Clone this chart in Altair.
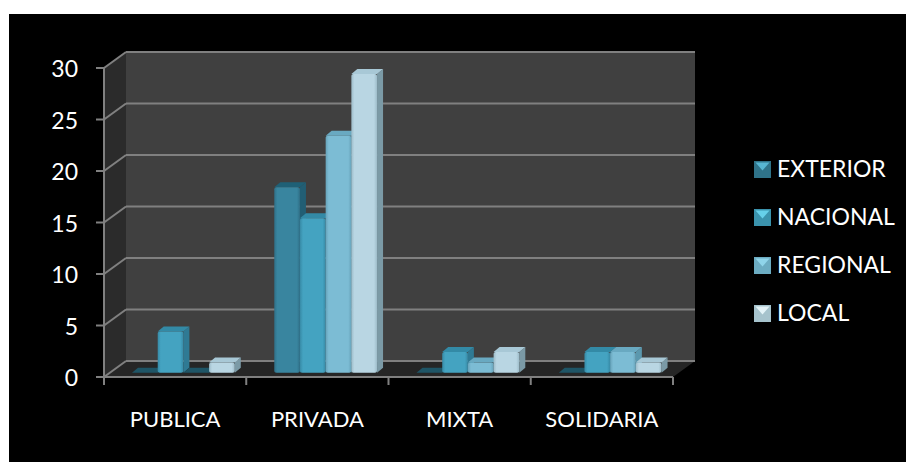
import altair as alt
import pandas as pd

# Survey counts by organisation type and geographic scope
categories = ["PUBLICA", "PRIVADA", "MIXTA", "SOLIDARIA"]
series = ["EXTERIOR", "NACIONAL", "REGIONAL", "LOCAL"]
exterior = [0, 18, 0, 0]
nacional = [4, 15, 2, 2]
regional = [0, 23, 1, 2]
local = [1, 29, 2, 1]
y_ticks = [0, 5, 10, 15, 20, 25, 30]
x_ticks = [0, 1, 2, 3, 4]
values = [exterior, nacional, regional, local]

front = ["#39859f", "#44a3c1", "#7cbcd4", "#b9d6e3"]
edge = ["#2f7088", "#378aa6", "#67a3ba", "#9dbcc9"]
side = ["#225e74", "#2f7a94", "#5b98ae", "#7b9aa6"]
top = ["#1f6076", "#338aa6", "#69a9c1", "#a8c8d6"]
zero_top = "#1f5566"
swatch_top = ["#57b6d2", "#66d0ea", "#8fd4ea", "#e4f3f8"]
swatch_body = ["#2f7389", "#3b93ad", "#6cacc2", "#a6c3cd"]

PLOT_W, PLOT_H = 569, 309
PX_X = PLOT_W / len(categories)
PX_Y = PLOT_H / 30

# depth of the 3D box and of the bars inside it, in screen pixels
BOX_DX, BOX_DY = 22, 16
BAR_DX, BAR_DY = 6, 5
LIFT = 4.3 / PX_Y
BAR_W = 25.7 / PX_X
GROUP_START = 28 / PX_X

bars, sides, tops = [], [], []
for j, name in enumerate(series):
    for i, cat in enumerate(categories):
        v = values[j][i]
        x0 = i + GROUP_START + j * BAR_W
        x1 = x0 + BAR_W
        dx = BAR_DX / PX_X
        dy = BAR_DY / PX_Y
        key = f"{j}-{i}"
        bars.append(dict(s=j, x0=x0, x1=x1, y0=LIFT, y1=v + LIFT))
        sides += [
            dict(s=j, id=key, x=x1, lo=LIFT, hi=v + LIFT),
            dict(s=j, id=key, x=x1 + dx, lo=LIFT + dy, hi=v + LIFT + dy),
        ]
        tops += [
            dict(s=j, id=key, flat=v == 0, y=v + LIFT, a=x0, b=x1),
            dict(s=j, id=key, flat=v == 0, y=v + LIFT + dy, a=x0 + dx, b=x1 + dx),
        ]
bars, sides, tops = pd.DataFrame(bars), pd.DataFrame(sides), pd.DataFrame(tops)

X = alt.Scale(domain=[0, 4], range=[0, PLOT_W], nice=False)
Y = alt.Scale(domain=[0, 30], range=[PLOT_H, 0], nice=False)
NO_X = alt.X("x:Q", scale=X, axis=None)
NO_Y = alt.Y("v:Q", scale=Y, axis=None)

GRID = "#808080"
one = pd.DataFrame({"a": [0]})


def panel(path, fill):
    """A filled face of the box, given as an SVG path from the front-left floor corner."""
    return alt.Chart(one).mark_point(
        shape=path, size=4, filled=True, fill=fill, opacity=1, strokeWidth=0
    ).encode(x=alt.value(0), y=alt.value(PLOT_H))


def top_face(rows, color):
    """The top of each bar as a parallelogram running back into the box."""
    return alt.Chart(rows).mark_area(color=color, opacity=1, orient="horizontal").encode(
        y=alt.Y("y:Q", scale=Y, axis=None), x=alt.X("a:Q", scale=X, axis=None), x2="b:Q", detail="id:N"
    )


# white strips along the top and left of the black page
strip_top = alt.Chart(one).mark_rect(color="#ffffff").encode(
    x=alt.value(-104), x2=alt.value(802), y=alt.value(-68), y2=alt.value(-54)
)
strip_left = alt.Chart(one).mark_rect(color="#ffffff").encode(
    x=alt.value(-104), x2=alt.value(-95), y=alt.value(-68), y2=alt.value(394)
)
back_wall = panel(f"M{BOX_DX} {-BOX_DY}L{PLOT_W + BOX_DX} {-BOX_DY}L{PLOT_W + BOX_DX} {-PLOT_H - BOX_DY}L{BOX_DX} {-PLOT_H - BOX_DY}Z", "#404040")
left_wall = panel(f"M0 0L{BOX_DX} {-BOX_DY}L{BOX_DX} {-PLOT_H - BOX_DY}L0 {-PLOT_H}Z", "#2b2b2b")
floor = panel(f"M0 0L{BOX_DX} {-BOX_DY}L{PLOT_W + BOX_DX} {-BOX_DY}L{PLOT_W} 0Z", "#262626")

y_df = pd.DataFrame({"v": y_ticks})
x_df = pd.DataFrame({"x": x_ticks})

grid_lines = alt.Chart(y_df).mark_rule(color=GRID, strokeWidth=2, yOffset=-BOX_DY, y2Offset=-BOX_DY).encode(
    x=alt.value(BOX_DX), x2=alt.value(PLOT_W + BOX_DX), y=NO_Y
)
wall_lines = alt.Chart(y_df).mark_point(
    shape=f"M0 0L{BOX_DX} {-BOX_DY}", size=4, filled=False, stroke=GRID, strokeWidth=2, opacity=1
).encode(x=alt.value(0), y=NO_Y)

# axis lines, ticks and value labels
y_domain = alt.Chart(one).mark_rule(color=GRID, strokeWidth=2).encode(
    x=alt.value(0), y=alt.value(0), y2=alt.value(PLOT_H)
)
x_domain = alt.Chart(one).mark_rule(color=GRID, strokeWidth=2).encode(
    x=alt.value(0), x2=alt.value(PLOT_W), y=alt.value(PLOT_H)
)
y_tick_marks = alt.Chart(y_df).mark_rule(color=GRID, strokeWidth=2).encode(
    x=alt.value(-8), x2=alt.value(0), y=NO_Y
)
x_tick_marks = alt.Chart(x_df).mark_rule(color=GRID, strokeWidth=2).encode(
    x=NO_X, y=alt.value(PLOT_H), y2=alt.value(PLOT_H + 8)
)
y_labels = alt.Chart(y_df).mark_text(
    font="Lato", fontSize=23, color="#ffffff", align="right", baseline="middle", dy=2
).encode(x=alt.value(-26), y=NO_Y, text="v:Q")

layers = [
    strip_top, strip_left, back_wall, left_wall, floor, grid_lines, wall_lines,
    y_domain, x_domain, y_tick_marks, x_tick_marks, y_labels,
]

for j in range(len(series)):
    gradient = alt.Gradient(
        gradient="linear", x1=0, x2=1, y1=0, y2=0,
        stops=[
            alt.GradientStop(offset=0, color=edge[j]),
            alt.GradientStop(offset=0.12, color=front[j]),
            alt.GradientStop(offset=0.88, color=front[j]),
            alt.GradientStop(offset=1, color=edge[j]),
        ],
    )
    layers.append(
        alt.Chart(sides[sides.s == j]).mark_area(color=side[j], opacity=1).encode(
            x=alt.X("x:Q", scale=X, axis=None), y=alt.Y("lo:Q", scale=Y, axis=None), y2="hi:Q", detail="id:N"
        )
    )
    rows = tops[tops.s == j]
    layers.append(top_face(rows[~rows.flat], top[j]))
    if rows.flat.any():
        # empty categories leave a dark footprint on the floor
        layers.append(top_face(rows[rows.flat], zero_top))
    solid = bars[(bars.s == j) & (bars.y1 > bars.y0)]
    layers.append(
        alt.Chart(solid).mark_bar(color=gradient, cornerRadius=2, opacity=1).encode(
            x=alt.X("x0:Q", scale=X, axis=None), x2="x1:Q", y=alt.Y("y0:Q", scale=Y, axis=None), y2="y1:Q"
        )
    )

cat_labels = pd.DataFrame({"c": categories, "x": [i + 0.5 for i in range(len(categories))]})
layers.append(
    alt.Chart(cat_labels).mark_text(
        font="Lato", fontSize=22, color="#ffffff", baseline="alphabetic", align="center"
    ).encode(x=NO_X, y=alt.value(PLOT_H + 50), text="c:N")
)

# legend entries: bevelled swatch and label
for j, name in enumerate(series):
    row_y = 101.5 + j * 48
    entry = pd.DataFrame({"t": [name]})
    layers.append(
        alt.Chart(entry).mark_point(
            shape="M-8.5 -8.5L8.5 -8.5L8.5 8.5L-8.5 8.5Z", size=4, filled=True, fill=swatch_body[j],
            opacity=1, strokeWidth=0
        ).encode(x=alt.value(658.5), y=alt.value(row_y))
    )
    layers.append(
        alt.Chart(entry).mark_point(
            shape="M-7 -7L7 -7L0 1Z", size=4, filled=True, fill=swatch_top[j],
            opacity=1, strokeWidth=0
        ).encode(x=alt.value(658.5), y=alt.value(row_y))
    )
    layers.append(
        alt.Chart(entry).mark_text(
            font="Lato", fontSize=23, color="#ffffff", align="left", baseline="middle"
        ).encode(x=alt.value(673), y=alt.value(row_y), text="t:N")
    )

chart = (
    alt.layer(*layers)
    .properties(
        width=PLOT_W,
        height=PLOT_H,
        background="#000000",
        padding={"left": 104, "top": 68, "right": 233, "bottom": 85},
        autosize=alt.AutoSizeParams(type="none"),
    )
    .configure_view(stroke=None)
)

chart.save("out.html", embed_options={"renderer": "svg", "actions": False})
